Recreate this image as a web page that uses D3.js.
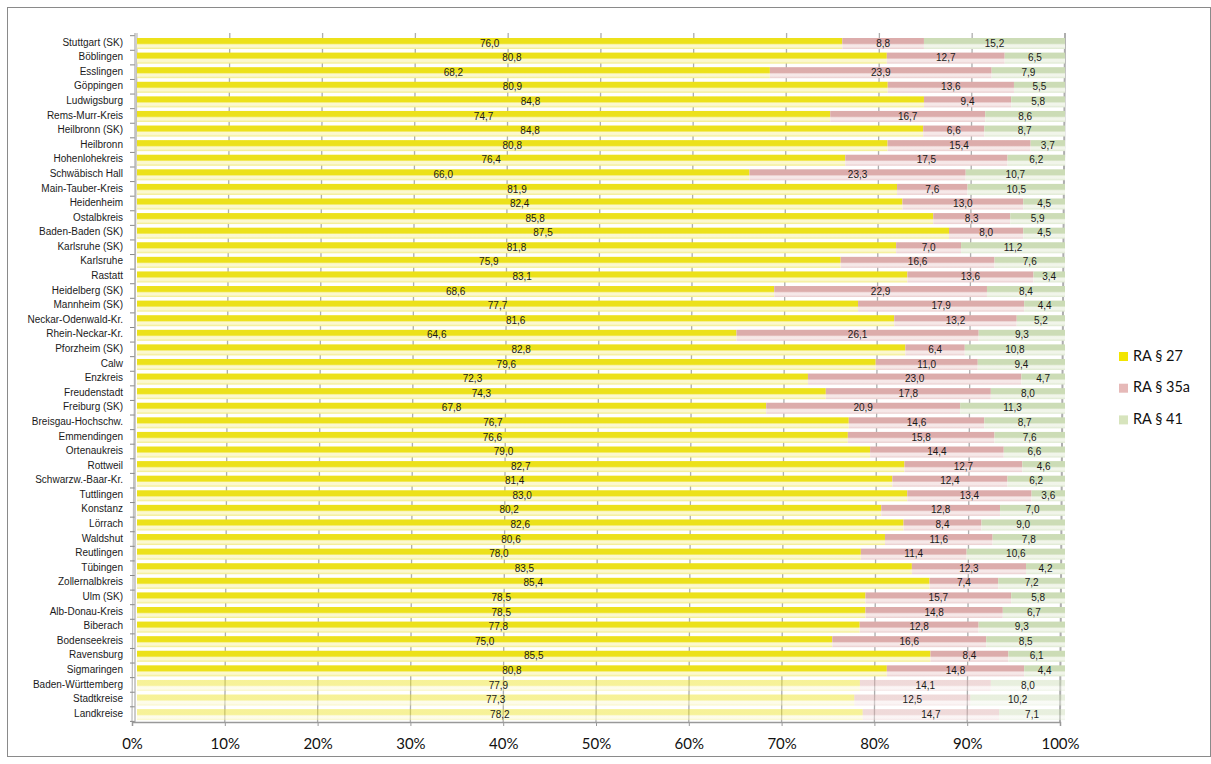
<!DOCTYPE html>
<html>
<head>
<meta charset="utf-8">
<script src="https://cdn.jsdelivr.net/npm/d3@7"></script>
<style>
  body { margin: 0; background: #fff; }
  svg { display: block; }
</style>
</head>
<body>
<svg id="chart" width="1211" height="764"></svg>
<script>
const regions = [
  'Stuttgart (SK)', 'Böblingen', 'Esslingen', 'Göppingen', 'Ludwigsburg', 'Rems-Murr-Kreis',
  'Heilbronn (SK)', 'Heilbronn', 'Hohenlohekreis', 'Schwäbisch Hall', 'Main-Tauber-Kreis',
  'Heidenheim', 'Ostalbkreis', 'Baden-Baden (SK)', 'Karlsruhe (SK)', 'Karlsruhe', 'Rastatt',
  'Heidelberg (SK)', 'Mannheim (SK)', 'Neckar-Odenwald-Kr.', 'Rhein-Neckar-Kr.', 'Pforzheim (SK)',
  'Calw', 'Enzkreis', 'Freudenstadt', 'Freiburg (SK)', 'Breisgau-Hochschw.', 'Emmendingen',
  'Ortenaukreis', 'Rottweil', 'Schwarzw.-Baar-Kr.', 'Tuttlingen', 'Konstanz', 'Lörrach',
  'Waldshut', 'Reutlingen', 'Tübingen', 'Zollernalbkreis', 'Ulm (SK)', 'Alb-Donau-Kreis',
  'Biberach', 'Bodenseekreis', 'Ravensburg', 'Sigmaringen', 'Baden-Württemberg',
  'Stadtkreise', 'Landkreise'
];

const ra27 = [
  76.0, 80.8, 68.2, 80.9, 84.8, 74.7, 84.8, 80.8, 76.4, 66.0, 81.9, 82.4, 85.8, 87.5, 81.8, 75.9,
  83.1, 68.6, 77.7, 81.6, 64.6, 82.8, 79.6, 72.3, 74.3, 67.8, 76.7, 76.6, 79.0, 82.7, 81.4, 83.0,
  80.2, 82.6, 80.6, 78.0, 83.5, 85.4, 78.5, 78.5, 77.8, 75.0, 85.5, 80.8, 77.9, 77.3, 78.2
];

const ra35a = [
  8.8, 12.7, 23.9, 13.6, 9.4, 16.7, 6.6, 15.4, 17.5, 23.3, 7.6, 13.0, 8.3, 8.0, 7.0, 16.6,
  13.6, 22.9, 17.9, 13.2, 26.1, 6.4, 11.0, 23.0, 17.8, 20.9, 14.6, 15.8, 14.4, 12.7, 12.4, 13.4,
  12.8, 8.4, 11.6, 11.4, 12.3, 7.4, 15.7, 14.8, 12.8, 16.6, 8.4, 14.8, 14.1, 12.5, 14.7
];

const ra41 = [
  15.2, 6.5, 7.9, 5.5, 5.8, 8.6, 8.7, 3.7, 6.2, 10.7, 10.5, 4.5, 5.9, 4.5, 11.2, 7.6,
  3.4, 8.4, 4.4, 5.2, 9.3, 10.8, 9.4, 4.7, 8.0, 11.3, 8.7, 7.6, 6.6, 4.6, 6.2, 3.6,
  7.0, 9.0, 7.8, 10.6, 4.2, 7.2, 5.8, 6.7, 9.3, 8.5, 6.1, 4.4, 8.0, 10.2, 7.1
];

const seriesNames = ['RA § 27', 'RA § 35a', 'RA § 41'];
const xTicks = [0, 0.1, 0.2, 0.3, 0.4, 0.5, 0.6, 0.7, 0.8, 0.9, 1];

// summary rows at the end are drawn paler
const summaryRows = ['Baden-Württemberg', 'Stadtkreise', 'Landkreise'];

const colors =
  [
    { key: 'ra27',  legend: '#f2e500', top: '#ece11a', mid: '#fbf8cf', bottom: '#f2ec86' },
    { key: 'ra35a', legend: '#e6b9b8', top: '#dcacab', mid: '#f6e8e8', bottom: '#e9cccc' },
    { key: 'ra41',  legend: '#d7e4bd', top: '#ccdcb6', mid: '#f1f5ea', bottom: '#dde8cf' }
  ];

const table = regions.map((name, i) => ({ name, ra27: ra27[i], ra35a: ra35a[i], ra41: ra41[i] }));

const svg = d3.select('#chart');

// outer frame
svg.append('rect')
  .attr('x', 7.5).attr('y', 7.5)
  .attr('width', 1203).attr('height', 749)
  .attr('fill', '#fff')
  .attr('stroke', '#8a8a8a')
  .attr('stroke-width', 1)
;

const x  = d3.scaleLinear().domain([0, 1]).range([137, 1065]);
const xb = x.copy().range([132, 1060]);   // floor / axis, shifted for the 3D depth
const y  = d3.scaleBand().domain(regions).range([35.7, 721.4]).paddingInner(0);

const defs = svg.append('defs');

colors.forEach(c =>
{
  [['', 1], ['-pale', 0.45]].forEach(([suffix, k]) =>
  {
    const g = defs.append('linearGradient')
      .attr('id', `grad-${ c.key }${ suffix }`)
      .attr('x1', 0).attr('y1', 0).attr('x2', 0).attr('y2', 1)
    ;
    g.append('stop').attr('offset', '0%').attr('stop-color', c.top).attr('stop-opacity', k);
    g.append('stop').attr('offset', '48%').attr('stop-color', c.top).attr('stop-opacity', k);
    g.append('stop').attr('offset', '62%').attr('stop-color', c.mid).attr('stop-opacity', k);
    g.append('stop').attr('offset', '80%').attr('stop-color', c.mid).attr('stop-opacity', k);
    g.append('stop').attr('offset', '100%').attr('stop-color', c.bottom).attr('stop-opacity', k);
  });
});

const plotTop = 33;

// back wall gridlines
svg.append('g')
  .selectAll('line')
  .data(xTicks)
  .join('line')
    .attr('x1', d => x(d)).attr('x2', d => xb(d))
    .attr('y1', plotTop).attr('y2', 722)
    .attr('stroke', d => d === 0 ? '#b0b0b0' : '#9a9a9a')
    .attr('stroke-width', d => d === 1 ? 2 : 1.3)
    .attr('opacity', 0.8)
;

// left wall ticks
svg.append('g')
  .selectAll('line')
  .data(regions.concat(['__end']))
  .join('line')
    .attr('x1', 130).attr('x2', 135)
    .attr('y1', (d, i) => 35.7 + i * y.step())
    .attr('y2', (d, i) => 35.7 + i * y.step())
    .attr('stroke', '#888')
    .attr('stroke-width', 1)
;

svg.append('line')
  .attr('x1', 135).attr('x2', 135)
  .attr('y1', plotTop).attr('y2', 722)
  .attr('stroke', '#aaa')
  .attr('stroke-width', 1.2)
;

// stacked bars
const stack = d3.stack().keys(['ra27', 'ra35a', 'ra41']);
const stacked = stack(table);
const total = d => d.data.ra27 + d.data.ra35a + d.data.ra41;

const layers = svg.append('g')
  .selectAll('g')
  .data(stacked)
  .join('g')
;

layers.selectAll('rect')
  .data(d => d.map(s => Object.assign(s, { key: d.key })))
  .join('rect')
    .attr('x', d => x(d[0] / total(d)))
    .attr('y', d => y(d.data.name) + 2.3)
    .attr('width', d => x(d[1] / total(d)) - x(d[0] / total(d)))
    .attr('height', 11)
    .attr('fill', d => summaryRows.includes(d.data.name) ? `url(#grad-${ d.key }-pale)` : `url(#grad-${ d.key })`)
;

// value labels
const fmt = v => d3.format('.1f')(v).replace('.', ',');

layers.selectAll('text')
  .data(d => d)
  .join('text')
    .text(d => fmt(d.data[d.key]))
    .attr('x', d => x((d[0] + d[1]) / 2 / total(d)))
    .attr('y', d => y(d.data.name) + y.bandwidth() / 2 + 1)
    .attr('font-family', '"Liberation Sans", Arial, sans-serif')
    .attr('font-size', 10)
    .attr('fill', '#1a1a1a')
    .attr('text-anchor', 'middle')
    .attr('dominant-baseline', 'middle')
;

// category labels
svg.append('g')
  .selectAll('text')
  .data(regions)
  .join('text')
    .text(d => d)
    .attr('x', 123)
    .attr('y', d => y(d) + y.bandwidth() / 2)
    .attr('font-family', '"Liberation Sans", Arial, sans-serif')
    .attr('font-size', 10)
    .attr('fill', '#1a1a1a')
    .attr('text-anchor', 'end')
    .attr('dominant-baseline', 'middle')
;

// bottom axis
const axis = svg.append('g')
  .attr('transform', 'translate( 0 722 )')
  .call(d3.axisBottom(xb).tickValues(xTicks).tickFormat(d3.format('.0%')).tickSize(4).tickPadding(12))
;

axis.select('.domain').attr('stroke', '#999').attr('stroke-width', 1.5);
axis.selectAll('.tick line').attr('stroke', '#999');
axis.selectAll('.tick text')
  .attr('font-family', 'Lato, "Open Sans", sans-serif')
  .attr('font-size', 15)
  .attr('fill', '#111')
;

// legend
const legend = svg.append('g')
  .attr('transform', 'translate( 1119 352 )')
  .selectAll('g')
  .data(seriesNames)
  .join('g')
    .attr('transform', (d, i) => `translate( 0 ${ i * 31.7 } )`)
;

legend.append('rect')
  .attr('x', 0).attr('y', 0)
  .attr('width', 9).attr('height', 9)
  .attr('fill', (d, i) => colors[i].legend)
;

legend.append('text')
  .text(d => d)
  .attr('x', 14)
  .attr('y', 5)
  .attr('font-family', 'Lato, "Open Sans", sans-serif')
  .attr('font-size', 14.5)
  .attr('fill', '#111')
  .attr('dominant-baseline', 'middle')
;
</script>
</body>
</html>
